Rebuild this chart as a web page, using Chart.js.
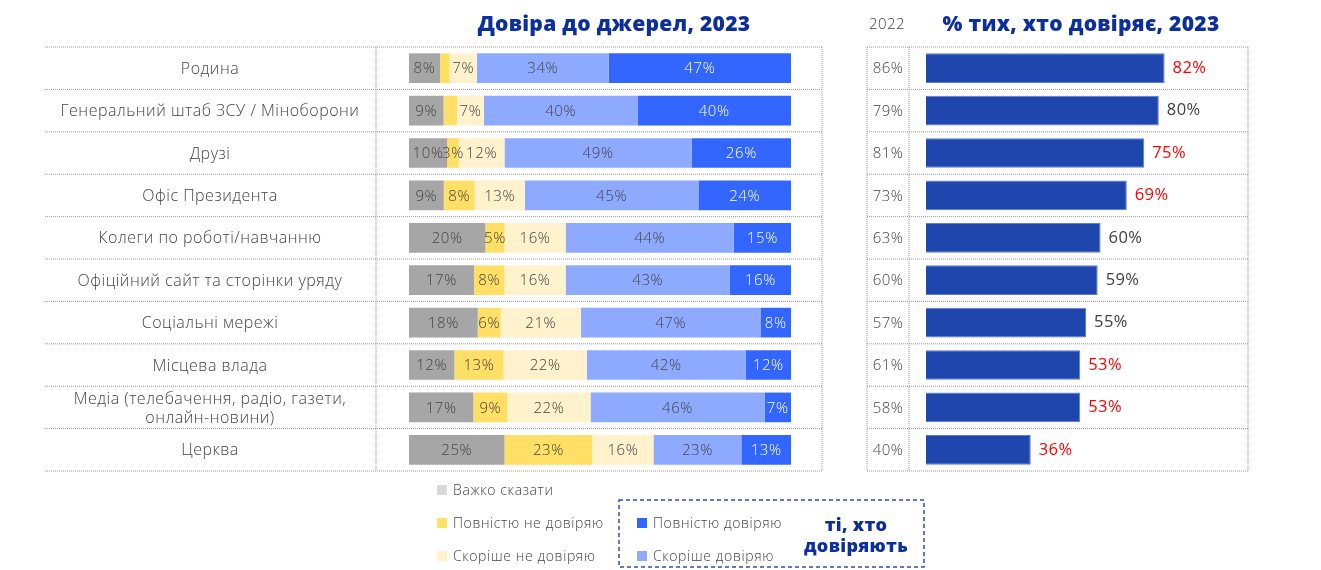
<!DOCTYPE html>
<html>
<head>
<meta charset="utf-8">
<script src="https://cdn.jsdelivr.net/npm/chart.js@4.4.0/dist/chart.umd.min.js"></script>
<style>
  html, body { margin: 0; padding: 0; background: #fff; overflow: hidden; }
  #wrap { position: relative; width: 1321px; height: 570px; }
  #wrap canvas { position: absolute; left: 0; top: 0; }
</style>
</head>
<body>
<div id="wrap">
  <canvas id="trustChart" width="1321" height="570"></canvas>
  <canvas id="shareChart" width="1321" height="570"></canvas>
</div>
<script>
// --- data ---
const categories = [
  "Родина",
  "Генеральний штаб ЗСУ / Міноборони",
  "Друзі",
  "Офіс Президента",
  "Колеги по роботі/навчанню",
  "Офіційний сайт та сторінки уряду",
  "Соціальні мережі",
  "Місцева влада",
  ["Медіа (телебачення, радіо, газети,", "онлайн-новини)"],
  "Церква"
];
const seriesNames = ["Важко сказати", "Повністю не довіряю", "Скоріше не довіряю", "Скоріше довіряю", "Повністю довіряю"];
const hardToSay      = [8, 9, 10, 9, 20, 17, 18, 12, 17, 25];
const fullyDistrust  = [2.5, 3.5, 3, 8, 5, 8, 6, 13, 9, 23];
const ratherDistrust = [7, 7, 12, 13, 16, 16, 21, 22, 22, 16];
const ratherTrust    = [34, 40, 49, 45, 44, 43, 47, 42, 46, 23];
const fullyTrust     = [47, 40, 26, 24, 15, 16, 8, 12, 7, 13];
// segments that carry no label in the original (series index, row index)
const unlabeled = [[1, 0], [1, 1]];

const trust2022 = [86, 79, 81, 73, 63, 60, 57, 61, 58, 40];
const trust2023 = [82, 80, 75, 69, 60, 59, 55, 53, 53, 36];
const droppedSignificantly = [true, false, true, true, false, false, false, true, true, true];

const FONT = '"Open Sans", "Noto Sans", sans-serif';
const TEXT = '#454545';
const NAVY = '#0d2e9f';
const segColors = ['#a6a6a6', '#ffdf66', '#fff2cc', '#8eaaff', '#3366ff'];
const legendColors = ['#d9d9d9', '#ffdf66', '#fff2cc', '#8eaaff', '#3366ff'];

const allSeries = [hardToSay, fullyDistrust, ratherDistrust, ratherTrust, fullyTrust];
// each bar is a 100% stack, so scale rows to their own total
const rowTotals = categories.map((c, i) => allSeries.reduce((s, arr) => s + arr[i], 0));

function dotted(ctx, x1, y1, x2, y2) {
  ctx.save();
  ctx.strokeStyle = '#9a9a9a';
  ctx.lineWidth = 1;
  ctx.setLineDash([1, 1]);
  ctx.beginPath();
  ctx.moveTo(x1, y1);
  ctx.lineTo(x2, y2);
  ctx.stroke();
  ctx.restore();
}

function rowBounds(chart) {
  const y = chart.scales.y;
  const step = y.getPixelForValue(1) - y.getPixelForValue(0);
  const lines = [];
  for (let i = 0; i <= categories.length; i++) lines.push(y.getPixelForValue(i) - step / 2);
  return lines;
}

const tablePlugin = {
  id: 'tablePlugin',
  beforeDatasetsDraw(chart) {
    const ctx = chart.ctx;
    const lines = rowBounds(chart);
    lines.forEach(l => dotted(ctx, 45, l, 822, l));
    dotted(ctx, 376, lines[0], 376, lines[lines.length - 1]);
    dotted(ctx, 822, lines[0], 822, lines[lines.length - 1]);
  },
  afterDatasetsDraw(chart) {
    const ctx = chart.ctx;
    const y = chart.scales.y;
    ctx.save();
    // title
    ctx.fillStyle = NAVY;
    ctx.font = '800 21px ' + FONT;
    ctx.letterSpacing = '0.3px';
    ctx.textAlign = 'center';
    ctx.textBaseline = 'middle';
    ctx.fillText('Довіра до джерел, 2023', 614, 25);

    // row labels
    ctx.fillStyle = TEXT;
    ctx.font = '300 16px ' + FONT;
    ctx.letterSpacing = '0.5px';
    categories.forEach((c, i) => {
      const cy = y.getPixelForValue(i) + 1;
      if (Array.isArray(c)) {
        ctx.fillText(c[0], 210, cy - 9);
        ctx.fillText(c[1], 210, cy + 10);
      } else {
        ctx.fillText(c, 210, cy);
      }
    });

    // segment labels
    ctx.font = '300 15px ' + FONT;
    ctx.letterSpacing = '0.6px';
    chart.data.datasets.forEach((ds, d) => {
      chart.getDatasetMeta(d).data.forEach((el, i) => {
        if (unlabeled.some(u => u[0] === d && u[1] === i)) return;
        ctx.fillStyle = d === 4 ? '#ffffff' : TEXT;
        ctx.fillText(Math.round(allSeries[d][i]) + '%', (el.x + el.base) / 2, el.y + 1);
      });
    });

    // legend
    ctx.textAlign = 'left';
    ctx.font = '300 14px ' + FONT;
    ctx.letterSpacing = '0.6px';
    const leg = [
      [0, 437, 490], [1, 437, 523], [2, 437, 556],
      [4, 637, 523], [3, 637, 556]
    ];
    leg.forEach(([s, x, ly]) => {
      ctx.fillStyle = legendColors[s];
      ctx.fillRect(x, ly - 5, 10, 10);
      ctx.fillStyle = TEXT;
      ctx.fillText(seriesNames[s], x + 16, ly + 1);
    });
    ctx.strokeStyle = '#2f4fb3';
    ctx.lineWidth = 1.5;
    ctx.setLineDash([4, 3]);
    ctx.strokeRect(619, 500, 305, 67);
    ctx.setLineDash([]);
    ctx.fillStyle = NAVY;
    ctx.font = '800 18px ' + FONT;
    ctx.letterSpacing = '0.3px';
    ctx.textAlign = 'center';
    ctx.fillText('ті, хто', 856, 526);
    ctx.fillText('довіряють', 856, 547);
    ctx.restore();
  }
};

new Chart(document.getElementById('trustChart'), {
  type: 'bar',
  data: {
    labels: categories,
    datasets: allSeries.map((arr, d) => ({
      label: seriesNames[d],
      data: arr.map((v, i) => v / rowTotals[i] * 100),
      backgroundColor: segColors[d],
      borderWidth: 0,
      barPercentage: 0.7,
      categoryPercentage: 1
    }))
  },
  options: {
    indexAxis: 'y',
    responsive: false,
    animation: false,
    layout: { padding: { left: 409, right: 530, top: 47, bottom: 99 } },
    scales: {
      x: { stacked: true, min: 0, max: 100, display: false },
      y: { stacked: true, display: false }
    },
    plugins: { legend: { display: false }, tooltip: { enabled: false } }
  },
  plugins: [tablePlugin]
});

const sharePlugin = {
  id: 'sharePlugin',
  beforeDatasetsDraw(chart) {
    const ctx = chart.ctx;
    const lines = rowBounds(chart);
    lines.forEach(l => dotted(ctx, 867, l, 1248, l));
    [867, 909, 1248].forEach(x => dotted(ctx, x, lines[0], x, lines[lines.length - 1]));
  },
  afterDatasetsDraw(chart) {
    const ctx = chart.ctx;
    const y = chart.scales.y;
    ctx.save();
    ctx.textBaseline = 'middle';
    ctx.textAlign = 'center';
    ctx.fillStyle = NAVY;
    ctx.font = '800 21px ' + FONT;
    ctx.letterSpacing = '0.3px';
    ctx.fillText('% тих, хто довіряє, 2023', 1081, 25);
    ctx.fillStyle = TEXT;
    ctx.font = '300 15px ' + FONT;
    ctx.letterSpacing = '0.5px';
    ctx.fillText('2022', 887, 25);
    trust2022.forEach((v, i) => ctx.fillText(v + '%', 888, y.getPixelForValue(i) + 1));
    ctx.textAlign = 'left';
    ctx.font = '16.5px ' + FONT;
    ctx.letterSpacing = '0.4px';
    chart.getDatasetMeta(0).data.forEach((el, i) => {
      ctx.fillStyle = droppedSignificantly[i] ? '#ff0000' : '#404040';
      ctx.fillText(trust2023[i] + '%', el.x + 8, el.y);
    });
    ctx.restore();
  }
};

new Chart(document.getElementById('shareChart'), {
  type: 'bar',
  data: {
    labels: categories,
    datasets: [{
      label: '% тих, хто довіряє, 2023',
      data: trust2023,
      backgroundColor: '#1e46ad',
      borderColor: '#5a7bd6',
      borderWidth: 1,
      barPercentage: 0.7,
      categoryPercentage: 1
    }]
  },
  options: {
    indexAxis: 'y',
    responsive: false,
    animation: false,
    layout: { padding: { left: 926, right: 104, top: 47, bottom: 99 } },
    scales: {
      x: { min: 0, max: 100, display: false },
      y: { display: false }
    },
    plugins: { legend: { display: false }, tooltip: { enabled: false } }
  },
  plugins: [sharePlugin]
});
</script>
</body>
</html>
